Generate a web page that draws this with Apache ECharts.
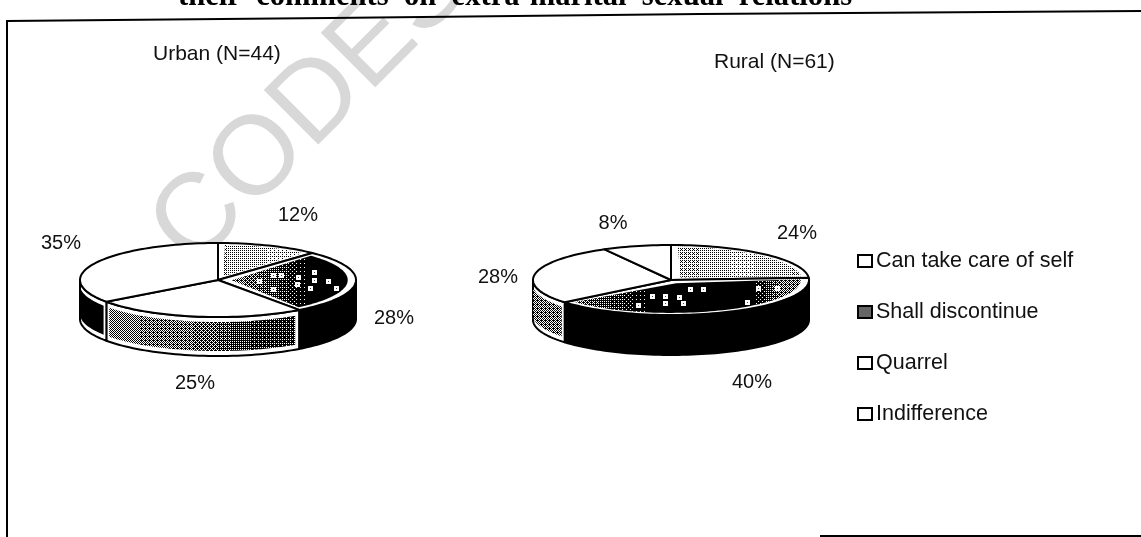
<!DOCTYPE html>
<html>
<head>
<meta charset="utf-8">
<style>html,body{margin:0;padding:0;background:#fff}#c{width:1141px;height:537px}</style>
<script src="https://cdn.jsdelivr.net/npm/echarts@6/dist/echarts.min.js"></script>
</head>
<body>
<div id="c"></div>
<script>
// ---- data ----
const categories = ['Can take care of self', 'Shall discontinue', 'Quarrel', 'Indifference'];
const urban = [12, 28, 25, 35];
const rural = [24, 40, 28, 8];
const groups = ['Urban (N=44)', 'Rural (N=61)'];
const heading = 'their  comments  on  extra-marital  sexual  relations';

// ---- layout ----
const pies = [
  { values: urban, cx: 218, cy: 280, rx: 138, ry: 37, depth: 39,
    labels: [[298, 215], [394, 318], [195, 383], [61, 243]] },
  { values: rural, cx: 671, cy: 280, rx: 138, ry: 35, depth: 40,
    labels: [[797, 233], [752, 382], [498, 277], [613, 223]] }
];
const font = 'Liberation Sans, Arial, sans-serif';

// ---- print textures (scanned halftone look) ----
const bayer = [[0,8,2,10],[12,4,14,6],[3,11,1,9],[15,7,13,5]];
function tile(w, h, density) {
  const c = document.createElement('canvas');
  c.width = w; c.height = h;
  const g = c.getContext('2d');
  g.fillStyle = '#fff'; g.fillRect(0, 0, w, h);
  g.fillStyle = '#000';
  for (let y = 0; y < h; y++) for (let x = 0; x < w; x++) {
    if ((bayer[y % 4][x % 4] + 0.5) / 16 < density(x, y)) g.fillRect(x, y, 1, 1);
  }
  return c;
}
function ramp(x, stops) {
  if (x <= stops[0][0]) return stops[0][1];
  for (let i = 1; i < stops.length; i++) {
    if (x <= stops[i][0]) {
      const a = stops[i - 1], b = stops[i];
      return a[1] + (b[1] - a[1]) * (x - a[0]) / (b[0] - a[0]);
    }
  }
  return stops[stops.length - 1][1];
}
const specks = [[259,281],[273,275],[281,275],[298,277],[314,272],[314,280],[328,281],[310,288],[336,288],[297,284],[273,289],
                [665,296],[679,297],[665,303],[683,303],[703,289],[690,289],[758,288],[747,302],[777,288],[652,296],[638,305]];
const lightStipple = { image: tile(1141, 8, x => x < 500 ? ramp(x, [[218,.3],[310,.14]]) : ramp(x, [[671,.34],[740,.2],[805,.3]])), repeat: 'repeat' };
const sideStipple = { image: tile(1141, 8, x => x < 500 ? ramp(x, [[110,.5],[200,.6],[250,.78],[330,.88]]) : .55), repeat: 'repeat' };
const darkCanvas = tile(1141, 537, x => x < 500 ? ramp(x, [[235,.55],[275,.75],[310,1]]) : ramp(x, [[580,.6],[650,1],[750,1],[785,.55]]));
(function () {
  const g = darkCanvas.getContext('2d');
  specks.forEach(p => {
    g.fillStyle = '#fff'; g.fillRect(p[0] - 2, p[1] - 2, 5, 5);
    g.fillStyle = '#444'; g.fillRect(p[0], p[1], 1, 1);
  });
})();
const darkTop = { image: darkCanvas, repeat: 'no-repeat' };

// ---- geometry derived from the values ----
function pt(p, deg, r, dy) {
  const a = deg * Math.PI / 180;
  return [p.cx + (r || 1) * p.rx * Math.sin(a), p.cy - (r || 1) * p.ry * Math.cos(a) + (dy || 0)];
}
function topFace(p, a0, a1, shrink, inset) {
  const pts = [];
  const n = Math.max(2, Math.ceil((a1 - a0) / 2));
  const s = shrink || 1, i = inset || 0;
  const mid = (a0 + a1) / 2;
  const c = inset ? pt(p, mid, 0.1) : [p.cx, p.cy];
  pts.push(c);
  for (let k = 0; k <= n; k++) pts.push(pt(p, a0 + i + (a1 - a0 - 2 * i) * k / n, s));
  return pts;
}
function sideWall(p, a0, a1, padDeg, padY) {
  const from = Math.max(a0, 90) + (padDeg || 0), to = Math.min(a1, 270) - (padDeg || 0);
  if (to <= from) return null;
  const up = [], down = [];
  const n = Math.ceil((to - from) / 2);
  for (let k = 0; k <= n; k++) {
    const a = from + (to - from) * k / n;
    up.push(pt(p, a, 1, padY || 0));
    down.unshift(pt(p, a, 1, p.depth - (padY || 0)));
  }
  return up.concat(down);
}
const line = { stroke: '#000', lineWidth: 2, lineJoin: 'round' };
const sideFill = {
  1: { fill: '#000' }, 2: { fill: sideStipple, framed: true }, 3: { fill: '#000', framed: true }, 0: { fill: '#fff' }
};
function poly(points, style, z2) {
  return { type: 'polygon', shape: { points }, style, z2, silent: true };
}
function renderSlice(catIndex) {
  return function (params, api) {
    const p = pies[params.dataIndex];
    const vals = p.values;
    const total = vals.reduce((a, b) => a + b, 0);
    let before = 0;
    for (let i = 0; i < catIndex; i++) before += vals[i];
    const value = api.value(0);
    const a0 = before / total * 360, a1 = (before + value) / total * 360;
    const children = [];
    // side wall
    const wall = sideWall(p, a0, a1);
    if (wall) {
      const sf = sideFill[catIndex];
      children.push(poly(wall, Object.assign({ fill: sf.framed ? '#fff' : sf.fill }, line), 1));
      if (sf.framed) {
        const inner = sideWall(p, a0, a1, 2, 5);
        if (inner) children.push(poly(inner, { fill: sf.fill }, 2));
      }
    }
    // top face
    children.push(poly(topFace(p, a0, a1), Object.assign({ fill: '#fff' }, line), 3));
    if (catIndex === 0) {
      children.push(poly(topFace(p, a0, a1, 0.95, 3), { fill: lightStipple }, 4));
    }
    if (catIndex === 1) {
      children.push(poly(topFace(p, a0, a1, 0.94, 2.5), { fill: darkTop }, 4));
    }
    // percent label
    const lab = p.labels[catIndex];
    children.push({
      type: 'text', x: lab[0], y: lab[1], z2: 6, silent: true,
      style: { text: value + '%', font: '20px ' + font, fill: '#111', align: 'center', verticalAlign: 'middle' }
    });
    return { type: 'group', children };
  };
}

const chart = echarts.init(document.getElementById('c'), null, { renderer: 'canvas' });
const legendStyles = [
  { color: '#fff', borderColor: '#000', borderWidth: 2 },
  { color: '#666', borderColor: '#000', borderWidth: 2 },
  { color: '#fff', borderColor: '#000', borderWidth: 2 },
  { color: '#fff', borderColor: '#000', borderWidth: 2 }
];
chart.setOption({
  animation: false,
  backgroundColor: '#fff',
  title: [
    { text: heading, left: 178, top: -18, padding: 0, z: 10,
      textStyle: { fontFamily: 'Liberation Serif, serif', fontWeight: 'bold', fontSize: 30.6, color: '#000' } },
    { text: groups[0], left: 153, top: 44, padding: 0,
      textStyle: { fontFamily: font, fontWeight: 'normal', fontSize: 21, color: '#111' } },
    { text: groups[1], left: 714, top: 52, padding: 0,
      textStyle: { fontFamily: font, fontWeight: 'normal', fontSize: 21, color: '#111' } }
  ],
  legend: {
    orient: 'vertical', left: 857, top: 250, padding: 0,
    itemWidth: 14, itemHeight: 12, itemGap: 29, icon: 'rect', selectedMode: false,
    data: categories.map((name, i) => ({ name, itemStyle: legendStyles[i] })),
    textStyle: { fontFamily: font, fontSize: 21.5, color: '#111', padding: [0, 0, 0, -1], height: 21, lineHeight: 21 }
  },
  graphic: [
    { type: 'text', x: 171, y: 248, rotation: Math.PI / 4, z: -10, silent: true,
      style: { text: 'CODES', font: '112px ' + font, fill: '#d8d8d8', verticalAlign: 'middle' } },
    { type: 'polyline', z: 5, silent: true, shape: { points: [[7, 537], [7, 21], [330, 18], [700, 14], [1141, 11]] },
      style: { stroke: '#000', lineWidth: 2, fill: null } },
    { type: 'line', z: 5, silent: true, shape: { x1: 820, y1: 536, x2: 1141, y2: 536 },
      style: { stroke: '#000', lineWidth: 2 } }
  ],
  series: categories.map((name, i) => ({
    type: 'custom',
    name,
    coordinateSystem: 'none',
    renderItem: renderSlice(i),
    itemStyle: legendStyles[i],
    data: [urban[i], rural[i]]
  }))
});
</script>
</body>
</html>
